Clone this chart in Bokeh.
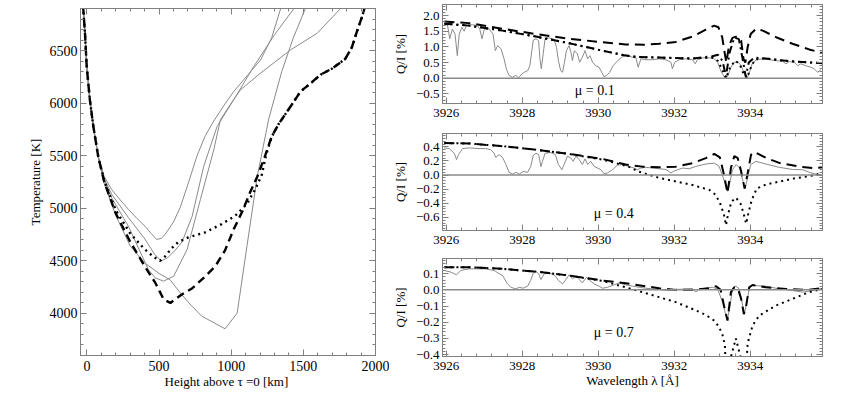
from bokeh.plotting import figure
from bokeh.layouts import row, column
from bokeh.models import (LinearAxis, SingleIntervalTicker, CustomJSTickFormatter,
                          Span, Label, Range1d)
from bokeh.embed import file_html
from bokeh.resources import INLINE

FONT = "Liberation Serif"
GRAY = "#8a8a8a"
AX = "#808080"

# ---------------- Left panel: temperature models (height [km], T [K]) ----------------
head = [(-33, 7040), (-14, 6665), (-2, 6350), (20, 6030), (44, 5780), (78, 5490)]
gray_a = head + [(120, 5300), (171, 5178), (230, 5080), (287, 4990), (345, 4905), (402, 4830),
                 (445, 4760), (483, 4703), (515, 4715), (541, 4750), (600, 4870), (647, 5010),
                 (700, 5230), (763, 5500), (820, 5690), (879, 5830), (950, 5980), (1017, 6110),
                 (1110, 6260), (1203, 6410), (1280, 6620), (1345, 6910)]
gray_b = head + [(120, 5280), (171, 5134), (287, 4912), (402, 4707), (470, 4560), (515, 4500),
                 (560, 4530), (610, 4600), (659, 4680), (729, 4924), (809, 5399), (902, 5778),
                 (1017, 6032), (1156, 6348), (1300, 6650), (1440, 6910)]
gray_c = head + [(120, 5260), (171, 5100), (287, 4829), (425, 4418), (472, 4339), (530, 4307),
                 (601, 4354), (694, 4608), (786, 5083), (879, 5557), (925, 5842), (1000, 6000),
                 (1064, 6127), (1203, 6285), (1411, 6506), (1596, 6665), (1765, 6910)]
gray_d = head + [(120, 5230), (200, 4930), (300, 4640), (400, 4480), (500, 4380), (576, 4320),
                 (650, 4190), (720, 4080), (795, 3975), (957, 3854), (1041, 4003), (1110, 4650),
                 (1180, 5300), (1260, 5850), (1350, 6300), (1430, 6620), (1520, 6920)]
model_dash = head + [(120, 5250), (200, 4950), (300, 4680), (400, 4450), (474, 4290), (532, 4132),
                     (578, 4100), (657, 4180), (730, 4240), (818, 4350), (890, 4450), (957, 4600),
                     (1017, 4800), (1080, 4980), (1130, 5150), (1180, 5300), (1230, 5480),
                     (1280, 5680), (1328, 5800), (1411, 5968), (1480, 6110), (1560, 6200),
                     (1619, 6270), (1700, 6330), (1790, 6420), (1836, 6530), (1871, 6680),
                     (1906, 6820), (1935, 6950)]
model_dot = head + [(120, 5260), (200, 4980), (300, 4760), (400, 4610), (460, 4540), (506, 4500),
                    (540, 4540), (587, 4620), (634, 4680), (703, 4723), (818, 4770), (934, 4850),
                    (1027, 4928), (1108, 5040), (1166, 5180), (1212, 5320), (1240, 5500),
                    (1280, 5680), (1328, 5800), (1411, 5968), (1480, 6110), (1560, 6200),
                    (1619, 6270), (1700, 6330), (1790, 6420), (1836, 6530), (1871, 6680),
                    (1906, 6820), (1935, 6950)]

# ---------------- Right panels: Q/I [%] vs wavelength [A] ----------------
obs_01 = [(3925.94, 1.68), (3926.03, 1.71), (3926.09, 1.26), (3926.16, 1.57), (3926.23, 1.41),
          (3926.29, 0.72), (3926.34, 1.41), (3926.41, 1.63), (3926.47, 1.50), (3926.53, 1.68),
          (3926.69, 1.71), (3926.82, 1.68), (3926.88, 1.57), (3926.94, 1.26), (3927.0, 1.57),
          (3927.13, 1.57), (3927.23, 1.41), (3927.29, 0.88), (3927.35, 1.04), (3927.44, 0.94),
          (3927.52, 0.62), (3927.58, 0.30), (3927.65, 0.09), (3927.74, 0.03), (3927.83, 0.09),
          (3927.9, 0.01), (3927.99, 0.14), (3928.05, 0.19), (3928.14, 0.24), (3928.2, 0.40),
          (3928.25, 0.88), (3928.29, 1.22), (3928.36, 1.26), (3928.43, 1.20), (3928.46, 0.67),
          (3928.5, 0.30), (3928.55, 0.78), (3928.6, 1.26), (3928.71, 1.29), (3928.84, 1.22),
          (3928.9, 0.99), (3928.95, 0.56), (3929.01, 0.24), (3929.06, 0.19), (3929.11, 0.51),
          (3929.16, 0.88), (3929.23, 1.04), (3929.28, 0.83), (3929.32, 0.56), (3929.37, 0.88),
          (3929.45, 0.78), (3929.51, 0.51), (3929.58, 0.67), (3929.65, 0.88), (3929.72, 0.62),
          (3929.78, 0.72), (3929.85, 0.51), (3929.93, 0.40), (3930.02, 0.35), (3930.09, 0.19),
          (3930.15, 0.05), (3930.22, 0.09), (3930.3, 0.19), (3930.39, 0.40), (3930.51, 0.56),
          (3930.64, 0.69), (3930.77, 0.72), (3930.9, 0.67), (3930.99, 0.65), (3931.05, 0.35),
          (3931.12, 0.62), (3931.25, 0.59), (3931.43, 0.59), (3931.6, 0.62), (3931.78, 0.59),
          (3931.91, 0.51), (3931.95, 0.30), (3932.01, 0.51), (3932.13, 0.59), (3932.3, 0.62),
          (3932.48, 0.59), (3932.55, 0.46), (3932.61, 0.59), (3932.74, 0.65), (3932.92, 0.65),
          (3933.05, 0.62), (3933.14, 0.51), (3933.22, 0.24), (3933.31, 0.05), (3933.36, 0.0),
          (3933.4, 0.05), (3933.49, 0.35), (3933.58, 0.51), (3933.67, 0.53), (3933.76, 0.40),
          (3933.85, 0.12), (3933.91, 0.0), (3933.96, 0.12), (3934.05, 0.46), (3934.15, 0.59),
          (3934.33, 0.62), (3934.5, 0.59), (3934.68, 0.56), (3934.85, 0.54), (3934.94, 0.46),
          (3935.03, 0.53), (3935.16, 0.51), (3935.25, 0.40), (3935.33, 0.46), (3935.46, 0.40),
          (3935.6, 0.35), (3935.68, 0.30), (3935.77, 0.19), (3935.86, 0.27)]
dash_01 = [(3925.95, 1.81), (3926.6, 1.76), (3927.48, 1.58), (3928.36, 1.41), (3929.23, 1.26),
           (3930.11, 1.15), (3930.72, 1.08), (3931.2, 1.07), (3931.6, 1.10), (3932.04, 1.16),
           (3932.48, 1.33), (3932.83, 1.55), (3933.05, 1.68), (3933.16, 1.63), (3933.26, 1.31),
           (3933.33, 0.78), (3933.37, 0.50), (3933.44, 1.04), (3933.53, 1.29), (3933.65, 1.34),
           (3933.76, 1.20), (3933.82, 0.62), (3933.87, 0.50), (3933.93, 0.99), (3934.01, 1.41),
           (3934.15, 1.58), (3934.33, 1.52), (3934.68, 1.31), (3935.11, 1.10), (3935.55, 0.92),
           (3935.9, 0.80)]
dot_01 = [(3925.95, 1.74), (3926.6, 1.68), (3927.48, 1.52), (3928.36, 1.33), (3929.23, 1.12),
          (3930.11, 0.88), (3930.7, 0.73), (3931.0, 0.68), (3931.6, 0.66), (3932.48, 0.63),
          (3933.0, 0.66), (3933.15, 0.55), (3933.25, 0.30), (3933.36, 0.0), (3933.47, 0.35),
          (3933.6, 0.56), (3933.72, 0.45), (3933.82, 0.15), (3933.91, 0.0), (3934.0, 0.30),
          (3934.12, 0.60), (3934.4, 0.63), (3934.8, 0.57), (3935.2, 0.53), (3935.6, 0.50),
          (3935.9, 0.48)]
dashdot_01 = [(3925.95, 1.74), (3926.6, 1.68), (3927.48, 1.52), (3928.36, 1.33), (3929.23, 1.12),
              (3930.11, 0.88), (3930.7, 0.73), (3931.0, 0.68), (3931.6, 0.66), (3932.48, 0.63),
              (3933.0, 0.70), (3933.15, 0.75), (3933.27, 0.55), (3933.36, 0.05), (3933.45, 0.80),
              (3933.58, 1.30), (3933.7, 1.25), (3933.8, 0.60), (3933.88, 0.05), (3933.96, 0.50),
              (3934.1, 0.66), (3934.4, 0.63), (3934.8, 0.57), (3935.2, 0.53), (3935.6, 0.50),
              (3935.9, 0.48)]

obs_04 = [(3925.94, 0.386), (3926.08, 0.376), (3926.21, 0.31), (3926.27, 0.22), (3926.32, 0.29),
          (3926.43, 0.376), (3926.6, 0.386), (3926.86, 0.376), (3927.04, 0.376), (3927.17, 0.36),
          (3927.26, 0.31), (3927.3, 0.25), (3927.39, 0.29), (3927.48, 0.25), (3927.57, 0.15),
          (3927.65, 0.04), (3927.74, 0.014), (3927.83, 0.04), (3927.92, 0.014), (3928.02, 0.05),
          (3928.14, 0.04), (3928.22, 0.12), (3928.29, 0.28), (3928.36, 0.31), (3928.43, 0.29),
          (3928.49, 0.12), (3928.53, 0.195), (3928.6, 0.31), (3928.75, 0.32), (3928.87, 0.29),
          (3928.95, 0.15), (3929.04, 0.076), (3929.1, 0.15), (3929.19, 0.27), (3929.28, 0.24),
          (3929.34, 0.195), (3929.41, 0.27), (3929.5, 0.22), (3929.58, 0.15), (3929.65, 0.23),
          (3929.72, 0.15), (3929.8, 0.195), (3929.89, 0.124), (3929.98, 0.10), (3930.07, 0.076),
          (3930.15, 0.02), (3930.24, 0.03), (3930.37, 0.076), (3930.5, 0.14), (3930.64, 0.15),
          (3930.81, 0.12), (3930.94, 0.10), (3931.03, 0.076), (3931.12, 0.10), (3931.25, 0.11),
          (3931.6, 0.09), (3931.78, 0.08), (3931.91, 0.03), (3932.0, 0.06), (3932.22, 0.10),
          (3932.39, 0.09), (3932.57, 0.124), (3932.83, 0.157), (3933.05, 0.17), (3933.18, 0.124),
          (3933.29, -0.04), (3933.36, -0.16), (3933.4, -0.23), (3933.47, -0.09), (3933.53, 0.076),
          (3933.63, 0.15), (3933.72, 0.10), (3933.81, -0.09), (3933.86, -0.19), (3933.93, -0.04),
          (3934.01, 0.15), (3934.15, 0.195), (3934.41, 0.157), (3934.76, 0.11), (3935.11, 0.08),
          (3935.38, 0.076), (3935.55, 0.04), (3935.68, 0.02), (3935.81, 0.005), (3935.92, 0.0)]
dash_04 = [(3925.95, 0.455), (3926.6, 0.448), (3927.48, 0.41), (3928.36, 0.36), (3929.23, 0.30),
           (3930.11, 0.23), (3930.72, 0.15), (3931.16, 0.12), (3931.6, 0.11), (3932.04, 0.12),
           (3932.48, 0.17), (3932.83, 0.24), (3933.05, 0.30), (3933.2, 0.25), (3933.31, 0.0),
           (3933.4, -0.26), (3933.49, 0.10), (3933.58, 0.27), (3933.67, 0.24), (3933.76, 0.05),
           (3933.85, -0.19), (3933.92, 0.0), (3934.02, 0.29), (3934.1, 0.33), (3934.43, 0.24),
           (3934.78, 0.17), (3935.3, 0.12), (3935.64, 0.10), (3935.9, 0.11)]
dot_04 = [(3925.95, 0.455), (3926.6, 0.448), (3927.48, 0.41), (3928.36, 0.36), (3929.23, 0.30),
          (3930.11, 0.22), (3930.55, 0.157), (3930.9, 0.10), (3931.0, 0.06), (3931.6, -0.04),
          (3932.04, -0.09), (3932.48, -0.14), (3932.92, -0.21), (3933.09, -0.28), (3933.22, -0.42),
          (3933.31, -0.57), (3933.36, -0.71), (3933.41, -0.57), (3933.5, -0.38), (3933.62, -0.32),
          (3933.74, -0.40), (3933.82, -0.54), (3933.89, -0.69), (3933.95, -0.54), (3934.04, -0.35),
          (3934.17, -0.19), (3934.43, -0.13), (3934.78, -0.09), (3935.13, -0.05), (3935.48, -0.02),
          (3935.74, 0.005), (3935.91, 0.04)]

obs_07 = [(3925.94, 0.12), (3926.12, 0.11), (3926.27, 0.093), (3926.38, 0.12), (3926.6, 0.13),
          (3927.04, 0.13), (3927.26, 0.12), (3927.39, 0.10), (3927.48, 0.089), (3927.61, 0.037),
          (3927.7, 0.016), (3927.83, 0.006), (3927.92, 0.016), (3928.02, 0.01), (3928.14, 0.023),
          (3928.22, 0.058), (3928.29, 0.105), (3928.36, 0.113), (3928.43, 0.10), (3928.49, 0.064),
          (3928.58, 0.10), (3928.71, 0.105), (3928.86, 0.089), (3928.95, 0.058), (3929.06, 0.037),
          (3929.16, 0.068), (3929.23, 0.093), (3929.32, 0.068), (3929.41, 0.085), (3929.5, 0.064),
          (3929.58, 0.043), (3929.69, 0.078), (3929.78, 0.058), (3929.89, 0.037), (3930.02, 0.023),
          (3930.11, 0.01), (3930.24, 0.016), (3930.37, 0.027), (3930.55, 0.043), (3930.72, 0.031),
          (3930.9, 0.023), (3931.25, 0.01), (3931.6, 0.002), (3931.86, -0.004), (3931.95, 0.002),
          (3932.48, 0.006), (3932.57, -0.014), (3932.65, 0.004), (3933.0, 0.016), (3933.14, 0.006),
          (3933.27, -0.076), (3933.36, -0.16), (3933.4, -0.18), (3933.47, -0.097), (3933.53, 0.01),
          (3933.62, 0.023), (3933.71, 0.006), (3933.8, -0.097), (3933.85, -0.14), (3933.91, -0.076),
          (3933.97, 0.006), (3934.06, 0.027), (3934.41, 0.023), (3934.76, 0.006), (3935.11, -0.004),
          (3935.38, -0.014), (3935.64, -0.004), (3935.9, 0.01)]
dash_07 = [(3925.95, 0.14), (3926.6, 0.14), (3927.48, 0.13), (3928.36, 0.113), (3929.23, 0.089),
           (3930.11, 0.058), (3930.9, 0.035), (3931.6, 0.01), (3932.04, 0.0), (3932.48, 0.0),
           (3932.92, 0.01), (3933.1, 0.023), (3933.22, 0.0), (3933.31, -0.10), (3933.4, -0.19),
           (3933.49, -0.014), (3933.58, 0.016), (3933.67, 0.01), (3933.76, -0.056), (3933.83, -0.15),
           (3933.89, -0.10), (3933.97, 0.016), (3934.06, 0.03), (3934.41, 0.016), (3934.94, 0.006),
           (3935.5, 0.0), (3935.9, 0.01)]
dot_07 = [(3925.95, 0.14), (3926.6, 0.14), (3927.48, 0.13), (3928.36, 0.113), (3929.23, 0.089),
          (3930.11, 0.055), (3930.72, 0.016), (3931.16, -0.014), (3931.6, -0.045), (3932.04, -0.076),
          (3932.48, -0.118), (3932.83, -0.155), (3933.05, -0.19), (3933.18, -0.23), (3933.27, -0.28),
          (3933.33, -0.34), (3933.38, -0.60), (3933.45, -0.45), (3933.62, -0.30), (3933.78, -0.45),
          (3933.86, -0.60), (3933.93, -0.33), (3934.06, -0.22), (3934.23, -0.16), (3934.67, -0.097),
          (3935.11, -0.056), (3935.55, -0.014), (3935.9, 0.006)]

mu_texts = ["μ = 0.1", "μ = 0.4", "μ = 0.7"]


def xy(pairs):
    return [p[0] for p in pairs], [p[1] for p in pairs]


def style_axis(ax, labels=True, fmt=None, size="13px", standoff=3):
    ax.axis_line_color = AX
    ax.major_tick_line_color = AX
    ax.minor_tick_line_color = AX
    ax.major_tick_in = 6
    ax.major_tick_out = 0
    ax.minor_tick_in = 3
    ax.minor_tick_out = 0
    ax.major_label_text_font = FONT
    ax.major_label_text_color = "black"
    ax.axis_label_text_font = FONT
    ax.axis_label_text_font_size = "13px"
    ax.axis_label_text_font_style = "normal"
    ax.axis_label_text_color = "black"
    if labels:
        ax.major_label_text_font_size = size
        ax.major_label_standoff = standoff
        if fmt is not None:
            ax.formatter = fmt
    else:
        ax.formatter = CustomJSTickFormatter(code="return '';")
        ax.major_label_text_font_size = "0px"
        ax.major_label_standoff = 0


def setup(p, xtick, ytick, yfmt=None, size="13px", standoff=3):
    p.xgrid.visible = False
    p.ygrid.visible = False
    p.outline_line_color = AX
    bottom = p.below[0]
    leftax = p.left[0]
    bottom.ticker = xtick
    leftax.ticker = ytick
    style_axis(bottom, size=size, standoff=standoff + 2)
    style_axis(leftax, fmt=yfmt, size=size, standoff=standoff)
    top = LinearAxis(ticker=xtick)
    style_axis(top, labels=False)
    p.add_layout(top, "above")
    right = LinearAxis(ticker=ytick)
    style_axis(right, labels=False)
    p.add_layout(right, "right")
    return bottom, leftax


# ---------- left figure ----------
left = figure(width=389, height=396, x_range=Range1d(-45, 2000), y_range=Range1d(3600, 6900),
              output_backend="svg", toolbar_location=None,
              min_border_left=80, min_border_right=14, min_border_top=8, min_border_bottom=41)
lb, ll = setup(left, SingleIntervalTicker(interval=500, num_minor_ticks=5),
               SingleIntervalTicker(interval=500, num_minor_ticks=5), size="14px", standoff=3)
lb.axis_label = "Height above τ =0  [km]"
lb.axis_label_standoff = 0
ll.axis_label = "Temperature [K]"
ll.axis_label_standoff = 4

for curve in (gray_a, gray_b, gray_c, gray_d):
    x, y = xy(curve)
    left.line(x, y, line_color=GRAY, line_width=1)
x, y = xy(model_dash)
left.line(x, y, line_color="black", line_width=2.4, line_dash="8 5")
x, y = xy(model_dot)
left.line(x, y, line_color="black", line_width=2.4, line_dash="2 4")

# ---------- right figures ----------
xr = Range1d(3925.9, 3935.9)
qfmt_code = r"""
const v = Math.abs(tick) < 1e-9 ? 0 : tick;
return v.toFixed(1).replace('-', '\u2212');
"""

specs = [
    dict(h=128, top=4, bottom=25, yr=(-0.808, 2.355), yint=0.5,
         obs=obs_01, dash=dash_01, dot=dot_01, dd=dashdot_01, lab=(3929.38, -0.39)),
    dict(h=127, top=5, bottom=25, yr=(-0.786, 0.59), yint=0.2,
         obs=obs_04, dash=dash_04, dot=dot_04, dd=None, lab=(3929.88, -0.54)),
    dict(h=140, top=3, bottom=39, yr=(-0.412, 0.194), yint=0.1,
         obs=obs_07, dash=dash_07, dot=dot_07, dd=None, lab=(3929.88, -0.264)),
]

rights = []
for i, s in enumerate(specs):
    p = figure(width=445, height=s["h"], x_range=xr, y_range=Range1d(*s["yr"]),
               output_backend="svg", toolbar_location=None,
               min_border_left=53, min_border_right=12,
               min_border_top=s["top"], min_border_bottom=s["bottom"])
    pb, pl = setup(p, SingleIntervalTicker(interval=2, num_minor_ticks=5),
                   SingleIntervalTicker(interval=s["yint"], num_minor_ticks=5),
                   yfmt=CustomJSTickFormatter(code=qfmt_code), size="13px", standoff=3)
    pl.axis_label = "Q/I [%]"
    pl.axis_label_standoff = 5
    if i == 2:
        pb.axis_label = "Wavelength λ [Å]"
        pb.axis_label_standoff = 0
    x, y = xy(s["obs"])
    p.line(x, y, line_color=GRAY, line_width=1)
    p.add_layout(Span(location=0, dimension="width", line_color=GRAY, line_width=1.5))
    x, y = xy(s["dot"])
    p.line(x, y, line_color="black", line_width=2, line_dash="2 4")
    x, y = xy(s["dash"])
    p.line(x, y, line_color="black", line_width=2, line_dash="10 6")
    if s["dd"] is not None:
        x, y = xy(s["dd"])
        p.line(x, y, line_color="black", line_width=2, line_dash="8 4 2 4")
    p.add_layout(Label(x=s["lab"][0], y=s["lab"][1], text=mu_texts[i], text_font=FONT,
                       text_font_size="14px", text_baseline="middle", text_align="left",
                       text_color="black"))
    rights.append(p)

layout = row(left, column(*rights))
open("out.html", "w").write(file_html(layout, INLINE))
